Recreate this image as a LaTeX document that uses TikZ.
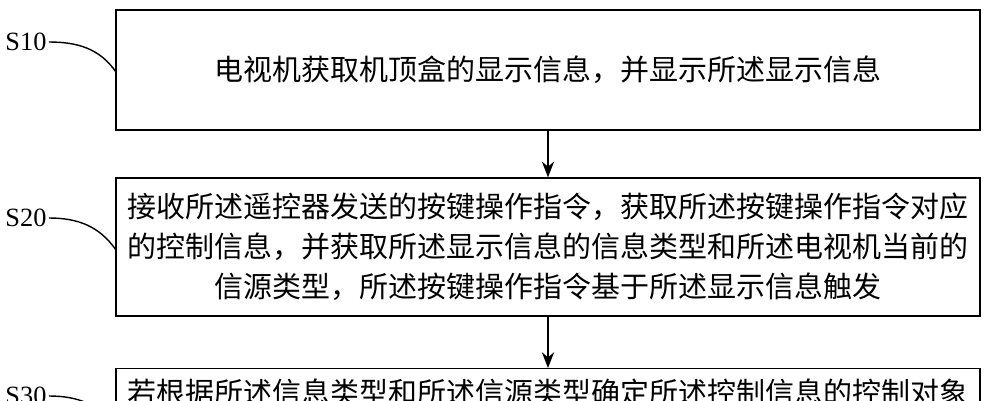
\documentclass[tikz,border=0pt]{standalone}
\usepackage{fontspec}
\setmainfont{Liberation Serif}
\newfontfamily\cjk{Noto Sans CJK SC}
\usetikzlibrary{arrows.meta}

\begin{document}
\begin{tikzpicture}
[x=0.02cm,y=-0.02cm,thick,%
  stepbox/.style={draw,thick,minimum width=17.28cm,inner sep=0pt,%
    font=\cjk\fontsize{16.5}{22.8}\selectfont},%
  steplabel/.style={font=\fontsize{15}{18}\selectfont,inner sep=1pt},%
  flow/.style={-{Stealth[length=9pt,width=7pt]},thick}]
\useasboundingbox (0,0) rectangle (988,400);
\clip (0,0) rectangle (988,400);
% steps
\node[stepbox,minimum height=2.4cm] (s10box) at (548,70)
  {电视机获取机顶盒的显示信息，并显示所述显示信息};
\node[stepbox,minimum height=2.76cm,align=center,text width=17cm] (s20box) at (548,247)
  {接收所述遥控器发送的按键操作指令，获取所述按键操作指令对应\\
   的控制信息，并获取所述显示信息的信息类型和所述电视机当前的\\
   信源类型，所述按键操作指令基于所述显示信息触发};
\node[stepbox,anchor=north,inner ysep=6pt,minimum height=1.2cm,text depth=1.2cm] (s30box) at (548,368)
  {若根据所述信息类型和所述信源类型确定所述控制信息的控制对象};
% labels
\node[steplabel,anchor=west] (s10) at (3,42) {S10};
\node[steplabel,anchor=west] (s20) at (3,218) {S20};
\node[steplabel,anchor=west] (s30) at (3,396) {S30};
\coordinate (c10) at (116,72);
\coordinate (c20) at (116,250);
\coordinate (c30) at (116,428);
\draw (s10.east) to[out=0,in=125] (c10);
\draw (s20.east) to[out=0,in=125] (c20);
\draw (s30.east) to[out=0,in=125] (c30);
% arrows
\draw[flow] (s10box) -- (s20box);
\draw[flow] (s20box) -- (s30box);
\end{tikzpicture}
\end{document}
